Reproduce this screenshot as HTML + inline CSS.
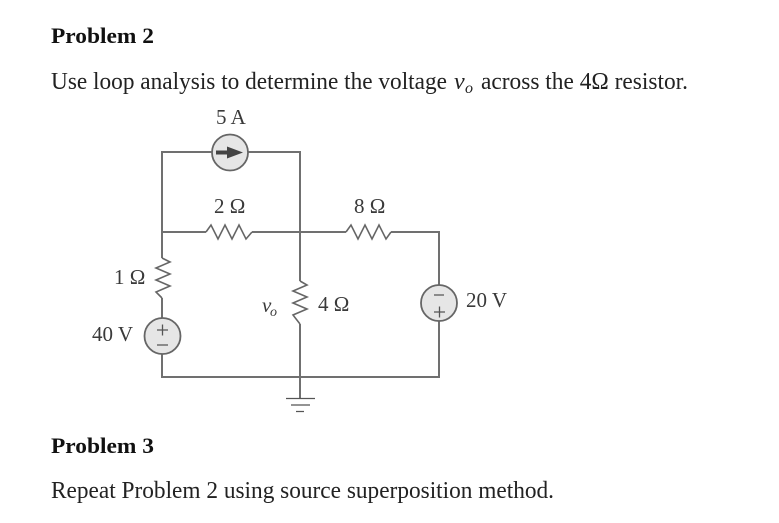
<!DOCTYPE html>
<html>
<head>
<meta charset="utf-8">
<style>
html,body{margin:0;padding:0;background:#fff;width:779px;height:523px;overflow:hidden}
svg{display:block;font-family:"Liberation Serif",serif}
.w{fill:none;stroke:#707070;stroke-width:2}
.r{fill:none;stroke:#666;stroke-width:1.6}
.s{fill:#e6e6e6;stroke:#666;stroke-width:1.8}
.t{fill:#222;font-size:24px}
.b{fill:#111;font-size:22.5px;font-weight:bold}
.l{fill:#3a3a3a;font-size:21px}
.p{stroke:#555;stroke-width:1.3;fill:none}
</style>
</head>
<body>
<svg width="779" height="523" viewBox="0 0 779 523" xmlns="http://www.w3.org/2000/svg">
<text class="b" x="51" y="43" textLength="103" lengthAdjust="spacingAndGlyphs">Problem 2</text>
<text class="t" x="51" y="89" textLength="396" lengthAdjust="spacingAndGlyphs">Use loop analysis to determine the voltage</text>
<text class="t" x="454" y="89" font-style="italic">v</text>
<text class="t" x="465" y="93" font-style="italic" style="font-size:16px">o</text>
<text class="t" x="481" y="89" textLength="207" lengthAdjust="spacingAndGlyphs">across the 4Ω resistor.</text>
<text class="b" x="51" y="453" textLength="103" lengthAdjust="spacingAndGlyphs">Problem 3</text>
<text class="t" x="51" y="498" textLength="503" lengthAdjust="spacingAndGlyphs">Repeat Problem 2 using source superposition method.</text>

<!-- wires -->
<path class="w" d="M212 152H162V258M248 152H300V281M162 232H206M252 232H346M391 232H439V285M439 321V377H162V354M162 318V298M300 324V398"/>
<!-- resistors -->
<path class="r" d="M206 232L211 225L218 239L225 225L232 239L239 225L246 239L252 232"/>
<path class="r" d="M346 232L351 225L358 239L365 225L372 239L379 225L386 239L391 232"/>
<path class="r" d="M162 258L170 262L156 268L170 274L156 280L170 286L156 292L162 298"/>
<path class="r" d="M300 281L307 285L293 291L307 297L293 303L307 309L293 315L300 324"/>
<!-- sources -->
<circle class="s" cx="230" cy="152.5" r="18"/>
<path d="M216 150.500h11v-4l16 6-16 6v-4h-11z" fill="#444"/>
<circle class="s" cx="162.500" cy="336" r="18"/>
<path class="p" d="M157 330h11M162.500 324.500v11M157 345h11"/>
<circle class="s" cx="439" cy="303" r="18"/>
<path class="p" d="M434 295h10M434 312h11M439.500 306.500v11"/>
<!-- ground -->
<path class="p" d="M286 398.500h29M291 405h19M296 411.500h8"/>
<!-- labels -->
<text class="l" x="216" y="124">5 A</text>
<text class="l" x="214" y="213">2 Ω</text>
<text class="l" x="354" y="213">8 Ω</text>
<text class="l" x="114" y="284">1 Ω</text>
<text class="l" x="92" y="341">40 V</text>
<text class="l" x="318" y="311">4 Ω</text>
<text class="l" x="466" y="307">20 V</text>
<text class="l" x="262" y="312" font-style="italic">v</text>
<text class="l" x="270" y="316" font-style="italic" style="font-size:14px">o</text>
</svg>
</body>
</html>
